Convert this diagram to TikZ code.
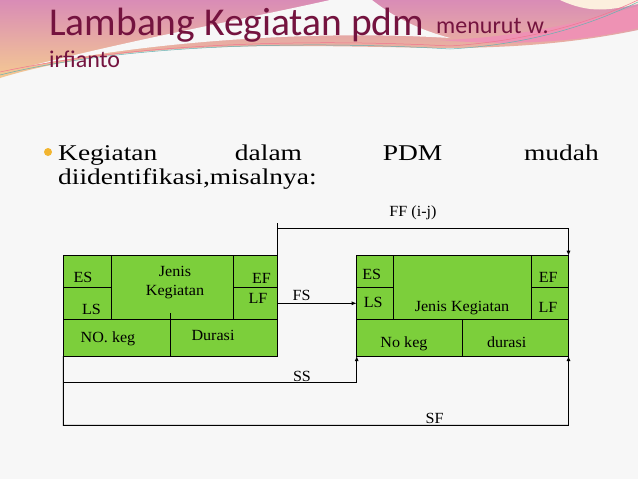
\documentclass[tikz,border=0pt]{standalone}
\usepackage{fontspec}
\setmainfont{Liberation Serif}
\newfontfamily\titlefont{Carlito}
\newfontfamily\bodyfont[FakeStretch=1.22]{Liberation Serif}
\newfontfamily\lblfont[FakeStretch=1.04]{Liberation Serif}
\usetikzlibrary{arrows.meta}
\definecolor{cellgreen}{HTML}{7CCF3B}
\definecolor{titlecol}{HTML}{74133F}
\definecolor{bgpink}{HTML}{D98CB6}
\definecolor{bgpeach}{HTML}{F4C992}
\definecolor{swpink}{HTML}{EE92B4}
\definecolor{bullcol}{HTML}{F2B530}
\tikzset{
  bigbox/.style={draw=black, line width=0.9pt, fill=cellgreen, inner sep=0pt, outer sep=0pt, anchor=north west},
  cellline/.style={draw=black, line width=0.9pt},
  conn/.style={draw=black, line width=0.9pt},
  tip/.style={-{Latex[length=5pt,width=4pt]}},
  lbl/.style={font=\lblfont\fontsize{15.5}{18}\selectfont, inner sep=0pt, anchor=base},
  bword/.style={font=\bodyfont\fontsize{22.5}{26}\selectfont, inner sep=0pt, anchor=base},
}
\begin{document}
\begin{tikzpicture}[x=1pt,y=-1pt]
\useasboundingbox (0,0) rectangle (638,479);
% background
\fill[white!97!black] (0,0) rectangle (638,479);
\shade[top color=bgpink, bottom color=bgpeach]
  (0,0) -- (638,0) -- (638,30) .. controls (580,42) and (520,48) .. (440,48)
  .. controls (300,46) and (130,38) .. (0,78) -- cycle;
\fill[white!97!black] (30,66) .. controls (140,38) and (250,18) .. (330,0) -- (372,0)
  .. controls (395,18) and (420,30) .. (450,38) .. controls (320,30) and (160,40) .. (30,66) -- cycle;
\fill[swpink] (440,40) .. controls (520,38) and (590,20) .. (638,6) -- (638,28)
  .. controls (590,40) and (520,47) .. (440,40) -- cycle;
\fill[white!70!bgpeach] (560,0) -- (638,0) -- (638,4) .. controls (610,10) and (590,14) .. (560,0) -- cycle;
\draw[teal!60, line width=0.5pt] (0,75) .. controls (120,45) and (300,40) .. (450,49) .. controls (540,44) and (600,20) .. (638,2);
\draw[swpink!80!red, line width=0.5pt] (0,72) .. controls (130,44) and (300,38) .. (450,46) .. controls (540,40) and (600,18) .. (638,0);
% title
\node[text=titlecol, font=\titlefont\fontsize{39.5}{44}\selectfont, inner sep=0pt, anchor=base west] (title) at (49,35) {Lambang Kegiatan pdm};
\node[text=titlecol, font=\titlefont\fontsize{24}{28}\selectfont, inner sep=0pt, anchor=base west] (sub1) at (436,33) {menurut w.};
\node[text=titlecol, font=\titlefont\fontsize{24}{28}\selectfont, inner sep=0pt, anchor=base west] (sub2) at (49,67) {irfianto};
% bullet
\fill[bullcol] (48,152) circle (4);
\node[bword, anchor=base west] (w1) at (58,160) {Kegiatan};
\node[bword] (w2) at (268.5,160) {dalam};
\node[bword] (w3) at (412.5,160) {PDM};
\node[bword, anchor=base east] (w4) at (599,160) {mudah};
\node[bword, anchor=base west] (w5) at (58,184) {diidentifikasi,misalnya:};
% left activity box
\node[bigbox, minimum width=213.7pt, minimum height=101pt] (A) at (63.3,255) {};
\draw[cellline] (63.3,319) -- (277,319);
\draw[cellline] (111.3,255) -- (111.3,319);
\draw[cellline] (233.3,255) -- (233.3,319);
\draw[cellline] (63.3,287.3) -- (111.3,287.3);
\draw[cellline] (233.3,287.3) -- (277,287.3);
\draw[cellline] (170.7,313) -- (170.7,356);
\node[lbl] (aES) at (83,282) {ES};
\node[lbl] (aLS) at (91.5,314) {LS};
\node[lbl] (aJ1) at (175,276) {Jenis};
\node[lbl] (aJ2) at (175,295) {Kegiatan};
\node[lbl] (aEF) at (261.5,283) {EF};
\node[lbl] (aLF) at (258,303) {LF};
\node[lbl] (aNo) at (108,342) {NO. keg};
\node[lbl] (aDur) at (213,340) {Durasi};
% right activity box
\node[bigbox, minimum width=211.8pt, minimum height=100.3pt] (B) at (356.7,255.7) {};
\draw[cellline] (356.7,319) -- (568.5,319);
\draw[cellline] (393.3,255.7) -- (393.3,319);
\draw[cellline] (531.7,255.7) -- (531.7,319);
\draw[cellline] (356.7,287.3) -- (393.3,287.3);
\draw[cellline] (531.7,287.3) -- (568.5,287.3);
\draw[cellline] (462.3,319) -- (462.3,356);
\node[lbl] (bES) at (371.7,279) {ES};
\node[lbl] (bLS) at (373.3,307) {LS};
\node[lbl] (bJ) at (462,311) {Jenis Kegiatan};
\node[lbl] (bEF) at (548.3,282) {EF};
\node[lbl] (bLF) at (548,312) {LF};
\node[lbl] (bNo) at (404,347) {No keg};
\node[lbl] (bDur) at (506.7,347) {durasi};
% connectors
\coordinate (ffC) at (277,228.3);
\coordinate (fsA) at (277,303.3);
\coordinate (fsB) at (356.7,303.3);
\coordinate (ssC) at (356.7,382.7);
\coordinate (sfC) at (568.5,425.3);
\draw[conn] (A.north east) -- ++(0,-32);
\draw[conn, tip] (ffC) -| (B.north east);
\draw[conn, tip] (fsA) -- (fsB);
\draw[conn, tip] (A.south west) |- (ssC) -- (B.south west);
\draw[conn, tip] (A.south west) |- (sfC) -- (B.south east);
\node[lbl] (lFF) at (413,216) {FF (i-j)};
\node[lbl] (lFS) at (301.7,300) {FS};
\node[lbl] (lSS) at (302,381) {SS};
\node[lbl] (lSF) at (434.7,423) {SF};
\end{tikzpicture}
\end{document}
